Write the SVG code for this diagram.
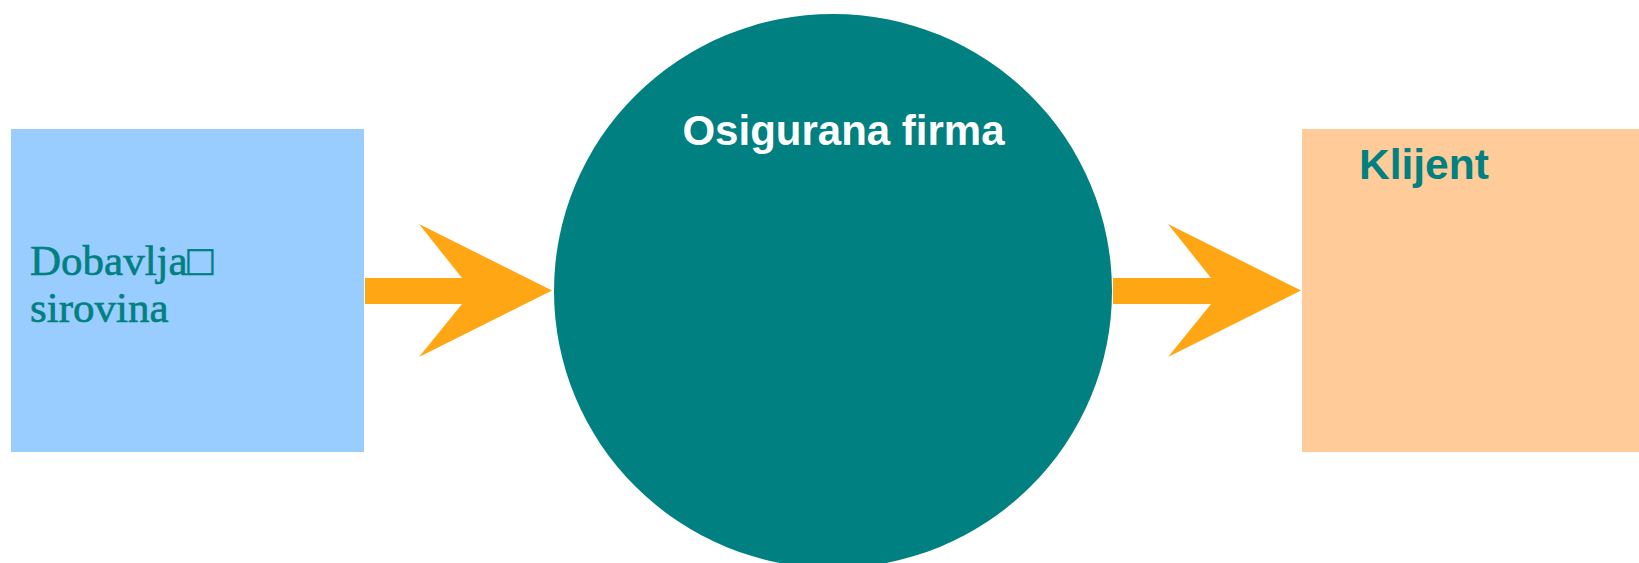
<svg xmlns="http://www.w3.org/2000/svg" width="1639" height="563" viewBox="0 0 1639 563">
<style>
.arrow{fill:#FFA614;}
.sans{font-family:"Liberation Sans",Arial,sans-serif;font-weight:bold;}
.serif{font-family:"Liberation Serif","DejaVu Serif",serif;font-size:43px;fill:#008080;stroke:#008080;stroke-width:0.6px;}
</style>
<rect width="1639" height="563" fill="#FFFFFF"/>
<g id="dobavljac">
<rect x="11" y="129" width="353" height="323" fill="#99CCFF"/>
<text class="serif" x="30" y="275">Dobavlja□</text>
<text class="serif" x="30" y="322">sirovina</text>
</g>
<g id="firma">
<ellipse cx="833" cy="291" rx="279" ry="277" fill="#008080"/>
<text class="sans" x="843.5" y="145" font-size="42" text-anchor="middle" fill="#FFFFFF">Osigurana firma</text>
</g>
<g id="klijent">
<rect x="1302" y="129" width="337" height="323" fill="#FFCC99"/>
<text class="sans" x="1359" y="179" font-size="42.5" fill="#008080">Klijent</text>
</g>
<g id="connectors">
<polygon class="arrow" points="365,278 462,278 419,224 552,290.5 419,357 462,304 365,304"/>
<polygon class="arrow" points="1113,278 1211,278 1168,224 1301,290.5 1168,357 1211,304 1113,304"/>
</g>
</svg>
